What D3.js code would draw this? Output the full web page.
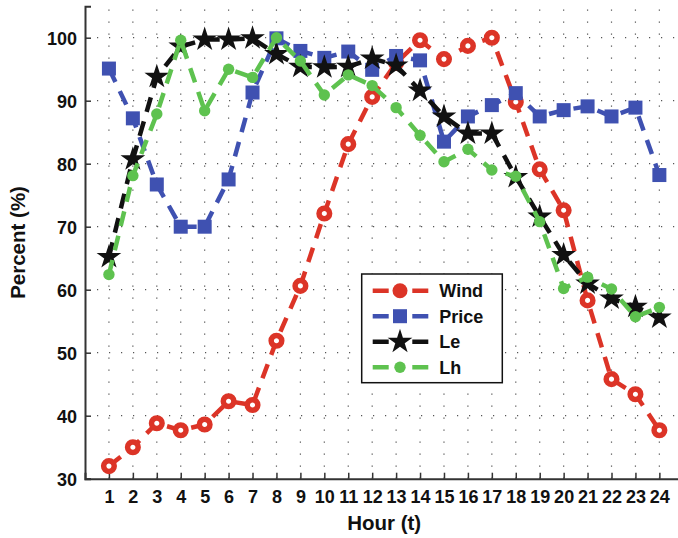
<!DOCTYPE html>
<html><head><meta charset="utf-8">
<script src="https://cdn.jsdelivr.net/npm/d3@7"></script>
<style>body{margin:0;background:#fff}svg{display:block}text{font-family:"Liberation Sans",Arial,sans-serif;font-weight:bold;fill:#111}</style>
</head><body><svg id="c" width="678" height="538"></svg>
<script>
const hours = d3.range(1, 25);
const wind  = [32.0,35.0,38.8,37.7,38.6,42.3,41.7,51.9,60.6,72.1,83.1,90.6,96.0,99.6,96.6,98.7,100.0,89.8,79.1,72.6,58.3,45.8,43.4,37.7];
const price = [95.1,87.2,76.7,70.0,70.0,77.5,91.3,99.9,97.9,96.8,97.8,94.9,97.1,96.4,83.5,87.5,89.3,91.2,87.5,88.5,89.1,87.5,88.9,78.2];
const le    = [65.2,80.7,93.8,98.6,99.7,99.7,99.9,97.4,95.4,95.3,95.4,96.7,95.6,91.6,87.5,84.8,84.8,77.9,71.6,65.5,61.0,58.6,57.3,55.6];
const lh    = [62.4,78.1,87.9,99.6,88.4,95.0,93.7,100.0,96.3,90.9,94.1,92.4,88.9,84.5,80.3,82.3,79.0,78.0,70.8,60.2,62.0,60.1,55.7,57.2];
const seriesNames = ["Wind","Price","Le","Lh"];
const seriesColors = ["#dc3427","#3f51b1","#111111","#5ec24f"];
const yTicks = [30,40,50,60,70,80,90,100];

const svg = d3.select("#c");
const x = d3.scaleLinear().domain([0,25]).range([85,683.3]);
const y = d3.scaleLinear().domain([30,105]).range([478.7,6.2]);

// grid
const g = svg.append("g");
g.selectAll("line.v").data(hours).enter().append("line")
  .attr("x1",d=>x(d)).attr("x2",d=>x(d)).attr("y1",y(30)).attr("y2",y(105))
  .attr("stroke","#555").attr("stroke-width",1.2).attr("stroke-dasharray","1.2,10.8");
g.selectAll("line.h").data(yTicks.slice(1)).enter().append("line")
  .attr("x1",x(0)).attr("x2",x(25)).attr("y1",d=>y(d)).attr("y2",d=>y(d))
  .attr("stroke","#555").attr("stroke-width",1.2).attr("stroke-dasharray","1.2,10.8");

// axes
const xAxis = d3.axisBottom(x).tickValues(hours).tickSize(-6).tickPadding(12).tickFormat(d3.format("d"));
const yAxis = d3.axisLeft(y).tickValues(yTicks).tickSize(-6).tickPadding(8);
const gx = svg.append("g").attr("transform",`translate(0,${y(30)})`).call(xAxis);
const gy = svg.append("g").attr("transform",`translate(${x(0)},0)`).call(yAxis);
[gx,gy].forEach(a=>{
  a.select(".domain").attr("stroke","#333").attr("stroke-width",2);
  a.selectAll(".tick line").attr("stroke","#333").attr("stroke-width",1.5);
  a.selectAll(".tick text").attr("font-size",18).attr("font-family","Liberation Sans, Arial, sans-serif").attr("font-weight","bold").attr("fill","#111");
});
gy.selectAll(".tick text").attr("dy","0.36em");

svg.append("text").attr("x",(x(0)+x(25))/2).attr("y",530).attr("text-anchor","middle").attr("font-size",20.5).text("Hour (t)");
svg.append("text").attr("transform",`translate(24.5,${(y(30)+y(105))/2}) rotate(-90)`).attr("text-anchor","middle").attr("font-size",20.5).text("Percent (%)");

// markers
function starPath(R){
  const r = R*0.382; let p = "";
  for(let i=0;i<10;i++){const a=-Math.PI/2+i*Math.PI/5; const rr=i%2?r:R; p+=(i?"L":"M")+(rr*Math.cos(a)).toFixed(2)+","+(rr*Math.sin(a)).toFixed(2);}
  return p+"Z";
}
function drawMarker(sel, k, legend){
  const c = seriesColors[k];
  if(k===0){
    if(legend) sel.append("circle").attr("r",7.5).attr("fill",c);
    else sel.append("circle").attr("r",5.3).attr("fill","#fff").attr("stroke",c).attr("stroke-width",5.5);
  } else if(k===1){
    sel.append("rect").attr("x",-7).attr("y",-7).attr("width",14).attr("height",14).attr("fill",c);
  } else if(k===2){
    sel.append("path").attr("d",starPath(13)).attr("fill",c);
  } else {
    sel.append("circle").attr("r",5.7).attr("fill",c);
  }
}
const data = [wind,price,le,lh];
const line = d3.line().x((d,i)=>x(hours[i])).y(d=>y(d));
data.forEach((vals,k)=>{
  const sg = svg.append("g");
  sg.append("path").datum(vals).attr("d",line).attr("fill","none")
    .attr("stroke",seriesColors[k]).attr("stroke-width",4.5).attr("stroke-dasharray","15,10");
  sg.selectAll("g.m").data(vals).enter().append("g")
    .attr("transform",(d,i)=>`translate(${x(hours[i])},${y(d)})`)
    .each(function(){drawMarker(d3.select(this),k,false);});
});

// legend
const lg = svg.append("g");
lg.append("rect").attr("x",361.7).attr("y",274).attr("width",140.6).attr("height",108.7)
  .attr("fill","#fff").attr("stroke","#111").attr("stroke-width",1.5);
seriesNames.forEach((n,k)=>{
  const yy = 290.7 + k*25.5;
  lg.append("line").attr("x1",372.7).attr("x2",428.3).attr("y1",yy).attr("y2",yy)
    .attr("stroke",seriesColors[k]).attr("stroke-width",4.5).attr("stroke-dasharray","16,23.6,16");
  const m = lg.append("g").attr("transform",`translate(400,${yy})`);
  drawMarker(m,k,true);
  lg.append("text").attr("x",439.3).attr("y",yy).attr("dy","0.36em").attr("font-size",18).text(n);
});
</script></body></html>
